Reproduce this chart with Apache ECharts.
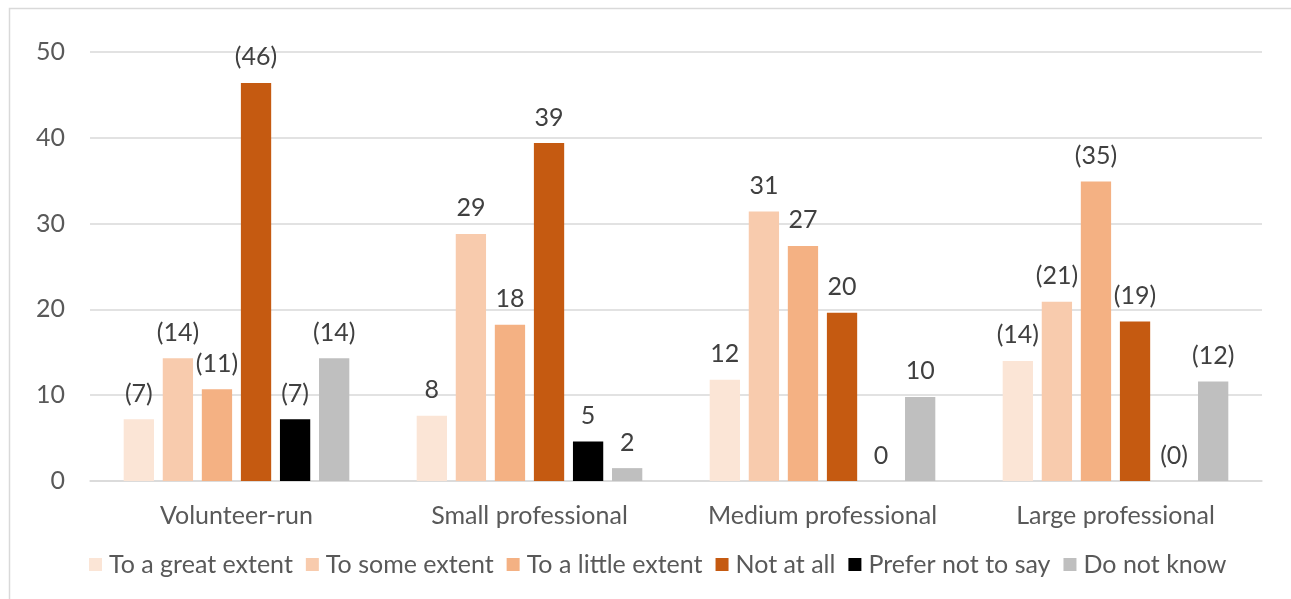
<!DOCTYPE html>
<html>
<head>
<meta charset="utf-8">
<style>
  html, body { margin: 0; padding: 0; background: #ffffff; }
  #chart { width: 1291px; height: 599px; }
</style>
<script src="https://cdn.jsdelivr.net/npm/echarts@6/dist/echarts.min.js"></script>
</head>
<body>
<div id="chart"></div>
<script>
// Organisation size groups along the x axis
const categories = ['Volunteer-run', 'Small professional', 'Medium professional', 'Large professional'];

// Groups whose value labels are shown in brackets
const bracketed = [true, false, false, true];

// Share of respondents per answer, one value per group
const greatExtent  = [7.2, 7.6, 11.8, 14.0];
const someExtent   = [14.3, 28.8, 31.4, 20.9];
const littleExtent = [10.7, 18.2, 27.4, 34.9];
const notAtAll     = [46.4, 39.4, 19.6, 18.6];
const preferNot    = [7.2, 4.6, 0, 0];
const doNotKnow    = [14.3, 1.5, 9.8, 11.6];

// Y axis scale
const yMin = 0, yMax = 50, yStep = 10;

const seriesDefs = [
  { name: 'To a great extent',  data: greatExtent,  color: '#FBE5D6' },
  { name: 'To some extent',     data: someExtent,   color: '#F8CBAD' },
  { name: 'To a little extent', data: littleExtent, color: '#F4B183' },
  { name: 'Not at all',         data: notAtAll,     color: '#C55A11' },
  { name: 'Prefer not to say',  data: preferNot,    color: '#000000' },
  { name: 'Do not know',        data: doNotKnow,    color: '#BFBFBF' }
];

const FONT = 'Lato';
const FS = 25;

const chart = echarts.init(document.getElementById('chart'), null, { renderer: 'canvas' });

chart.setOption({
  animation: false,
  backgroundColor: '#ffffff',
  textStyle: { fontFamily: FONT },
  graphic: [{
    type: 'rect',
    left: 7, top: 6,
    shape: { width: 1300, height: 700 },
    style: { fill: 'none', stroke: '#d9d9d9', lineWidth: 1.5 },
    silent: true
  }],
  grid: { left: 90, right: 29, top: 52, bottom: 118, containLabel: false },
  legend: {
    bottom: 17,
    left: 84,
    itemWidth: 13,
    itemHeight: 13,
    itemGap: 13,
    icon: 'rect',
    textStyle: { fontFamily: FONT, fontSize: FS, color: '#595959', padding: [0, 0, 0, 2] },
    data: seriesDefs.map(s => s.name)
  },
  xAxis: {
    type: 'category',
    data: categories,
    axisLine: { show: true, lineStyle: { color: '#d9d9d9', width: 1.5 } },
    axisTick: { show: false },
    axisLabel: { interval: 0, fontFamily: FONT, fontSize: FS, color: '#595959', margin: 22 }
  },
  yAxis: {
    type: 'value',
    min: yMin, max: yMax, interval: yStep,
    axisLine: { show: false },
    axisTick: { show: false },
    splitLine: { lineStyle: { color: '#d9d9d9', width: 1.5 } },
    axisLabel: { fontFamily: FONT, fontSize: FS, color: '#595959', margin: 25 }
  },
  series: seriesDefs.map(s => ({
    name: s.name,
    type: 'bar',
    data: s.data,
    barGap: '29%',
    barCategoryGap: '23%',
    itemStyle: { color: s.color },
    label: {
      show: true,
      position: 'top',
      distance: 13,
      fontFamily: FONT,
      fontSize: FS,
      color: '#404040',
      formatter: p => {
        const v = Math.round(p.value);
        return bracketed[p.dataIndex] ? '(' + v + ')' : String(v);
      }
    }
  }))
});
</script>
</body>
</html>
